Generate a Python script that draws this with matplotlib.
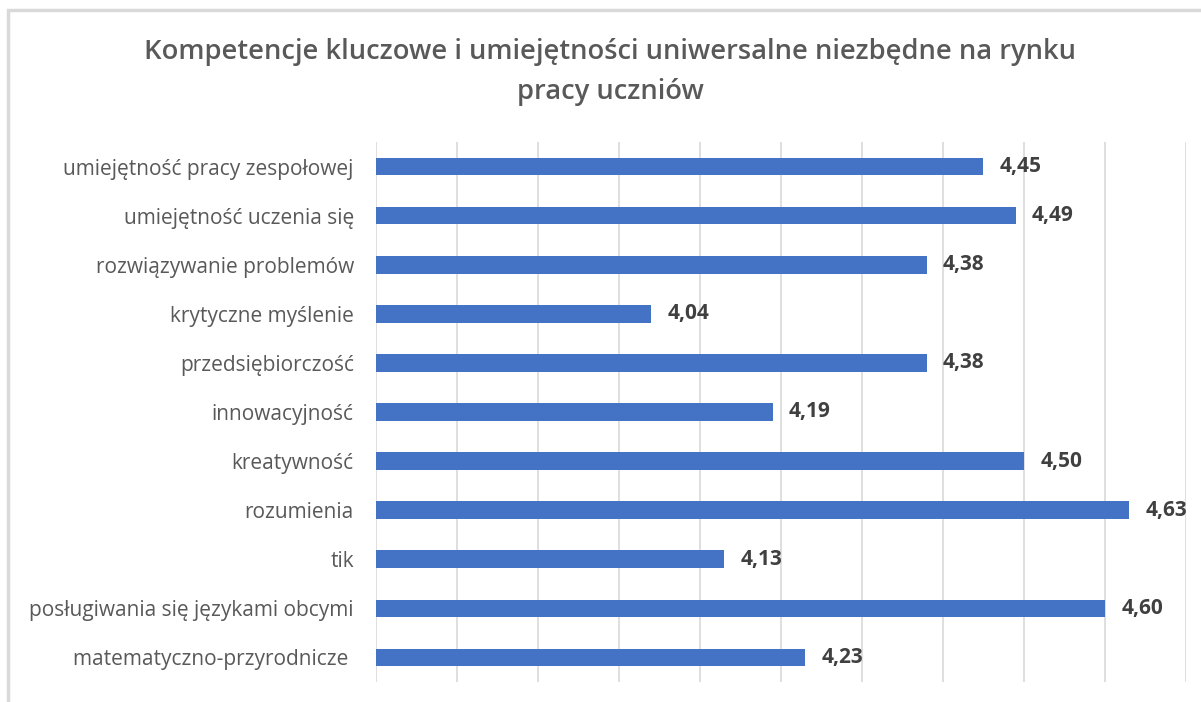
import matplotlib.pyplot as plt
import matplotlib.patches as mpatches
import numpy as np

# dane
kategorie = [
    'umiejętność pracy zespołowej',
    'umiejętność uczenia się',
    'rozwiązywanie problemów',
    'krytyczne myślenie',
    'przedsiębiorczość',
    'innowacyjność',
    'kreatywność',
    'rozumienia',
    'tik',
    'posługiwania się językami obcymi',
    'matematyczno-przyrodnicze ',
]
wartosci = [4.45, 4.49, 4.38, 4.04, 4.38, 4.19, 4.50, 4.63, 4.13, 4.60, 4.23]

KOLOR_SLUPKA = '#4472C4'
KOLOR_TEKSTU = '#595959'
KOLOR_ETYKIET = '#404040'
KOLOR_SIATKI = '#D9D9D9'

plt.rcParams['font.family'] = ['Open Sans', 'DejaVu Sans']

fig = plt.figure(figsize=(12.01, 7.02), dpi=100)
fig.patch.set_facecolor('white')

# ramka wykresu (widoczna tylko lewa i górna krawędź)
fig.patches.append(mpatches.Rectangle((8 / 1201, -0.1), 1.2, 1 - 10 / 702 + 0.1,
                                      transform=fig.transFigure, fill=False,
                                      edgecolor=KOLOR_SIATKI, linewidth=2.5))

ax = fig.add_axes([376 / 1201, 1 - 682 / 702, (1186 - 376) / 1201, (682 - 142) / 702])

y = np.arange(len(kategorie))
ax.barh(y, [w - 3.7 for w in wartosci], left=3.7, height=0.36,
        color=KOLOR_SLUPKA, zorder=3)

for yi, w in zip(y, wartosci):
    ax.text(w + 0.02, yi, f'{w:.2f}'.replace('.', ','), ha='left', va='center',
            fontsize=15, fontweight='bold', color=KOLOR_ETYKIET, zorder=4)

ax.set_xlim(3.7, 4.7)
ax.set_ylim(len(kategorie) - 0.5, -0.5)
ax.set_xticks(np.arange(3.7, 4.71, 0.1))
ax.set_xticklabels([])
ax.set_yticks(y)
ax.set_yticklabels(kategorie, fontsize=15, color=KOLOR_TEKSTU)
ax.tick_params(axis='both', length=0)
ax.tick_params(axis='y', pad=16)
ax.grid(axis='x', color=KOLOR_SIATKI, linewidth=1.2, zorder=0)
for s in ax.spines.values():
    s.set_visible(False)

fig.text(0.508, 1 - 52 / 702, 'Kompetencje kluczowe i umiejętności uniwersalne niezbędne na rynku',
         ha='center', va='center', fontsize=19.7, fontweight='semibold', color=KOLOR_TEKSTU)
fig.text(0.508, 1 - 92 / 702, 'pracy uczniów',
         ha='center', va='center', fontsize=19.7, fontweight='semibold', color=KOLOR_TEKSTU)

fig.savefig('out.png', dpi=100, facecolor='white')
